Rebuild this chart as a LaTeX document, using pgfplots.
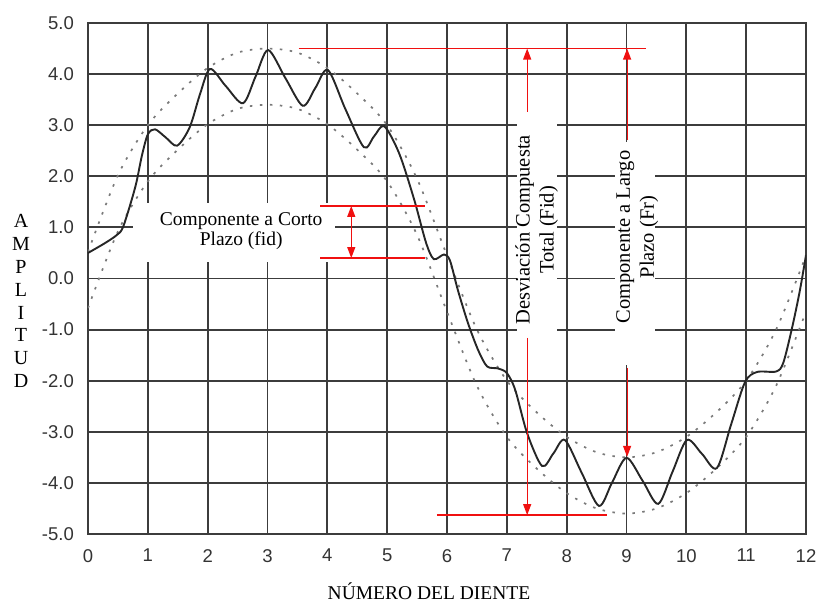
\documentclass[border=0pt]{standalone}
\usepackage{fontspec}
\setmainfont{Liberation Serif}
\newfontfamily\tickfont{Liberation Sans}
\usepackage{pgfplots}
\pgfplotsset{compat=1.18}
\usetikzlibrary{arrows.meta}

\definecolor{gridc}{HTML}{3C3C3C}
\definecolor{dotc}{HTML}{7A7A7A}
\definecolor{annred}{HTML}{F01010}

\begin{document}
\begin{tikzpicture}
\useasboundingbox (-88bp,-69bp) rectangle (733bp,534bp);
\begin{axis}[
    at={(0,0)}, anchor=south west,
    scale only axis,
    width=718bp, height=511bp,
    xmin=0, xmax=12, ymin=-5, ymax=5,
    xtick={0,1,2,3,4,5,6,7,8,9,10,11,12},
    ytick={-5,-4,-3,-2,-1,0,1,2,3,4,5},
    grid=major,
    major grid style={gridc, line width=1.9bp},
    axis line style={gridc, line width=2bp},
    major tick length=0pt,
    /pgf/number format/assume math mode=true,
    ticklabel style={font=\tickfont\fontsize{18.5bp}{20bp}\selectfont, text=black!80},
    yticklabel style={anchor=east, inner sep=0pt, xshift=-14bp,
        /pgf/number format/.cd, fixed, fixed zerofill, precision=1},
    xticklabel style={anchor=north, inner sep=0pt, yshift=-15bp},
]

% white boxes behind the annotation texts
\fill[white] (axis cs:0.75,0.32) rectangle (axis cs:4.13,1.48);
\fill[white] (axis cs:7.17,-1.22) rectangle (axis cs:7.84,3.30);
\fill[white] (axis cs:8.81,-1.69) rectangle (axis cs:9.48,2.67);

\node[align=center, font=\fontsize{19.5bp}{20bp}\selectfont]
    at (axis cs:2.56,0.93) {Componente a Corto\\Plazo (fid)};
\node[align=center, rotate=90, font=\fontsize{20.5bp}{24bp}\selectfont]
    at (axis cs:7.5,0.95) {Desviación Compuesta\\Total (Fid)};
\node[align=center, rotate=90, font=\fontsize{20.5bp}{24bp}\selectfont]
    at (axis cs:9.18,0.81) {Componente a Largo\\Plazo (Fr)};

% envelopes
\addplot[dotc, line width=1.7bp, dash pattern=on 2.5bp off 7.5bp, smooth] coordinates {
    (0,0.52) (0.5,2.02) (1,3.0) (1.5,3.62) (2,4.12) (2.5,4.42) (3,4.5)
    (3.5,4.42) (4,4.12) (4.5,3.62) (5,3.0) (5.5,1.95) (6,0.45)
    (6.5,-1.0) (7,-2.0) (7.5,-2.62) (8,-3.1) (8.5,-3.4) (9,-3.5)
    (9.5,-3.4) (10,-3.1) (10.5,-2.62) (11,-2.0) (11.5,-1.0) (12,0.45)
};
\addplot[dotc, line width=1.7bp, dash pattern=on 2.5bp off 7.5bp, smooth] coordinates {
    (0,-0.58) (0.5,0.92) (1,1.9) (1.5,2.52) (2,3.02) (2.5,3.32) (3,3.4)
    (3.5,3.32) (4,3.02) (4.5,2.52) (5,1.9) (5.5,0.85) (6,-0.65)
    (6.5,-2.1) (7,-3.1) (7.5,-3.72) (8,-4.2) (8.5,-4.5) (9,-4.6)
    (9.5,-4.5) (10,-4.2) (10.5,-3.72) (11,-3.1) (11.5,-2.1) (12,-0.65)
};

% composite deviation
\addplot[black!85, line width=1.9bp, smooth] coordinates {
    (0,0.5) (0.28,0.69) (0.48,0.85) (0.59,1.02) (0.79,1.79) (0.9,2.4)
    (1.0,2.82) (1.12,2.92) (1.3,2.76) (1.49,2.6) (1.7,2.96) (1.87,3.6)
    (2.04,4.1) (2.3,3.77) (2.59,3.43) (2.8,3.95) (3.01,4.47) (3.3,3.92)
    (3.59,3.38) (3.8,3.73) (4.01,4.08) (4.3,3.32) (4.61,2.57) (4.78,2.78)
    (4.95,2.98) (5.2,2.45) (5.45,1.55) (5.65,0.7) (5.78,0.38) (5.95,0.47)
    (6.05,0.35) (6.18,-0.22) (6.35,-0.87) (6.52,-1.4) (6.67,-1.72)
    (6.85,-1.76) (7.0,-1.85) (7.14,-2.18) (7.34,-3.03) (7.59,-3.67)
    (7.78,-3.42) (7.97,-3.16) (8.25,-3.8) (8.54,-4.45) (8.76,-3.99)
    (9.0,-3.51) (9.27,-3.96) (9.53,-4.41) (9.77,-3.78) (10.01,-3.16)
    (10.26,-3.43) (10.51,-3.71) (10.75,-2.85) (10.98,-2.03) (11.18,-1.83)
    (11.5,-1.82) (11.62,-1.65) (11.77,-0.95) (11.9,-0.22) (12,0.46)
};

% red annotations
\begin{scope}[annred, line width=1.2bp]
\draw (axis cs:3.52,4.5) -- (axis cs:9.33,4.5);
\draw (axis cs:5.83,-4.63) -- (axis cs:8.67,-4.63);
\draw (axis cs:3.88,1.42) -- (axis cs:5.63,1.42);
\draw (axis cs:3.88,0.40) -- (axis cs:5.63,0.40);
\draw[{Triangle[width=8bp,length=11bp]}-{Triangle[width=8bp,length=11bp]}]
    (axis cs:4.40,1.42) -- (axis cs:4.40,0.40);
\draw[-{Triangle[width=8bp,length=11bp]}] (axis cs:7.34,3.26) -- (axis cs:7.34,4.5);
\draw[-{Triangle[width=8bp,length=11bp]}] (axis cs:7.34,-1.16) -- (axis cs:7.34,-4.63);
\draw[-{Triangle[width=8bp,length=11bp]}] (axis cs:9.01,2.71) -- (axis cs:9.01,4.5);
\draw[-{Triangle[width=8bp,length=11bp]}] (axis cs:9.01,-1.75) -- (axis cs:9.01,-3.49);
\end{scope}
\end{axis}

\node[align=center, font=\fontsize{20bp}{22.9bp}\selectfont]
    at (-67bp,233bp) {A\\M\\P\\L\\I\\T\\U\\D};
\node[font=\fontsize{19.5bp}{22bp}\selectfont] at (341bp,-57bp) {NÚMERO DEL DIENTE};
\end{tikzpicture}
\end{document}
